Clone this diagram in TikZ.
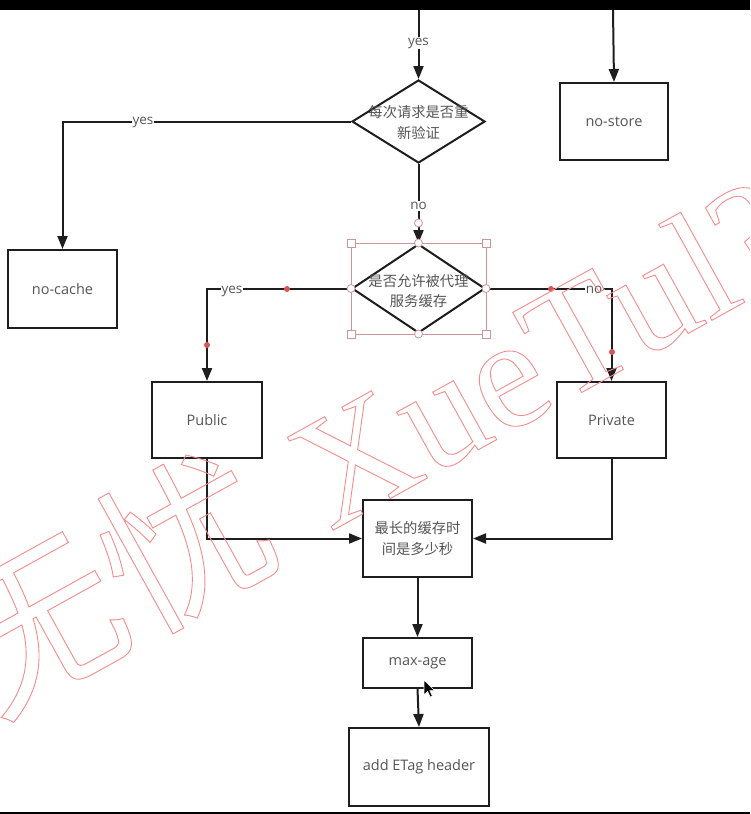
\documentclass[tikz,border=0pt]{standalone}
\usepackage{fontspec}
\setmainfont{Open Sans}
\newfontfamily\cjk{Noto Sans CJK SC}
\newfontfamily\wmcjk{Noto Sans CJK SC}
\newfontfamily\wmlat{Liberation Serif}
\usetikzlibrary{arrows.meta,shapes.geometric,calc}
\definecolor{ln}{HTML}{1E1E1E}
\definecolor{tx}{HTML}{555555}
\definecolor{sel}{RGB}{205,150,150}
\definecolor{dot}{RGB}{215,85,85}
\definecolor{wm}{RGB}{245,140,140}
\newcommand{\olon}{\special{pdf:code 1 Tr 0.9 w}}
\newcommand{\oloff}{\special{pdf:code 0 Tr}}
\begin{document}
\begin{tikzpicture}[x=1pt,y=-1pt,
  every node/.style={font=\fontsize{14.5}{18}\selectfont, text=tx},
  box/.style={draw=ln, line width=2pt, fill=white, inner sep=0pt, align=center},
  dia/.style={draw=ln, line width=2pt, fill=white, diamond, inner sep=0pt},
  cjktext/.style={font=\cjk\fontsize{14.3}{20.5}\selectfont, align=center},
  conn/.style={draw=ln, line width=2pt, -{Triangle[length=13pt,width=10pt]}},
  lab/.style={fill=white, inner sep=1pt, font=\fontsize{13.5}{16}\selectfont},
  handle/.style={draw=sel, line width=0.8pt, fill=white},
  rdot/.style={fill=dot, circle, inner sep=0pt, minimum size=6pt},
  wmark/.style={text=wm, color=wm, rotate=29, inner sep=0pt}
]
\useasboundingbox (0,0) rectangle (750,814);
\fill[white] (0,0) rectangle (750,814);

% nodes
\node[box, minimum width=108pt, minimum height=77pt] (nostore) at (614,121.5) {no-store};
\node[box, minimum width=109pt, minimum height=78pt] (nocache) at (62.5,289) {no-cache};
\node[box, minimum width=110pt, minimum height=76pt] (public) at (207,420) {Public};
\node[box, minimum width=109pt, minimum height=76pt] (private) at (611.5,420) {Private};
\node[box, minimum width=109pt, minimum height=77pt] (longest) at (417.5,538.5) {};
\node[cjktext] (longestt) at (longest) {最长的缓存时\\间是多少秒};
\node[box, minimum width=109pt, minimum height=50pt] (maxage) at (417.5,663) {max-age};
\node[box, minimum width=140pt, minimum height=78pt] (etag) at (419,767) {add ETag header};
\node[dia, minimum width=133pt, minimum height=83pt] (d1) at (418.5,121.5) {};
\node[cjktext] (d1t) at ($(d1)+(0,1)$) {每次请求是否重\\新验证};
\node[dia, minimum width=133pt, minimum height=89pt] (d2) at (418.5,288.5) {};

\coordinate (top1) at (418.5,10);
\coordinate (top2) at (613,10);

% connectors
\draw[conn] (top1) -- (d1.north);
\node[lab] (ly1) at (418.5,43) {yes};
\draw[conn] (top2) -- (nostore.north);
\draw[conn] (d1.west) -| (nocache.north);
\node[lab] (ly2) at (143,122) {yes};
\draw[conn] (d1.south) -- (d2.north);
\node[lab] (ln1) at (418.5,206) {no};
\draw[conn] (d2.west) -| (public.north);
\node[lab] (ly3) at (232,291) {yes};
\draw[conn] (d2.east) -| (private.north);
\node[lab] (ln2) at (594,290) {no};
\draw[conn] (public.south) |- (longest.west);
\draw[conn] (private.south) |- (longest.east);
\draw[conn] (longest.south) -- (maxage.north);
\draw[conn] (maxage.south) -- (etag.north);

% selection overlay on second diamond
\path (d2.west |- d2.north) coordinate (c1) (d2.east |- d2.north) coordinate (c2)
      (d2.west |- d2.south) coordinate (c3) (d2.east |- d2.south) coordinate (c4);
\draw[sel, line width=0.8pt] (c1) rectangle (c4);
\foreach \c in {c1,c2,c3,c4}
  \draw[handle] ($(\c)+(-4,-4)$) rectangle ($(\c)+(4,4)$);
\foreach \c in {d2.north,d2.south,d2.west,d2.east}
  \draw[handle] (\c) circle (4);
\coordinate (hn) at (418.5,223);
\draw[handle] (hn) circle (4);
\node[cjktext] (d2t) at ($(d2)+(0,2.5)$) {是否允许被代理\\服务缓存};

% red points on connectors
\node[rdot] (p1) at (287,289) {};
\node[rdot] (p2) at (207,345) {};
\node[rdot] (p3) at (551,289) {};
\node[rdot] (p4) at (612,352) {};

% mouse cursor
\begin{scope}[shift={(424,680)}]
\filldraw[fill=black, draw=white, line width=0.6pt]
  (0,0) -- (0,15) -- (3.6,11.4) -- (6.2,17) -- (8.4,16) -- (5.8,10.6) -- (10.6,10.6) -- cycle;
\end{scope}

% watermark
\begin{scope}
\clip (0,10) rectangle (750,812);
\coordinate (wp) at (330,532);
\node[wmark, anchor=base west] (wlat) at (wp)
  {\olon{\wmlat\fontsize{158}{158}\selectfont XueTul?}\oloff};
\node[wmark, anchor=base east] (wcjk) at ($(wp)+(-42,23)$)
  {\olon{\wmcjk\fontsize{168}{168}\selectfont 无忧}\oloff};
\end{scope}

% screen bars
\fill[black] (0,0) rectangle (750,10);
\fill[black] (0,812) rectangle (750,814);
\end{tikzpicture}
\end{document}
